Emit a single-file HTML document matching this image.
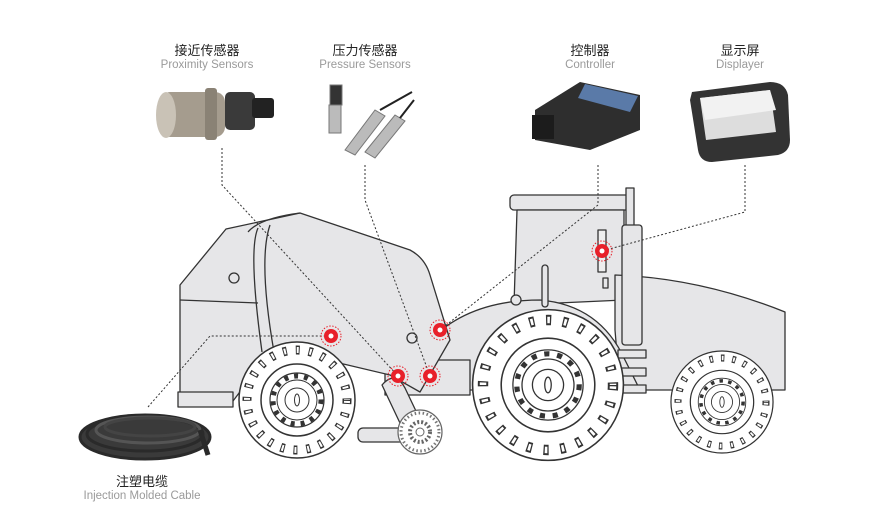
<!DOCTYPE html>
<html><head><meta charset="utf-8"><style>
html,body{margin:0;padding:0;background:#fff;}
body{width:871px;height:516px;overflow:hidden;position:relative;font-family:"Liberation Sans","Noto Sans CJK SC",sans-serif;}
.t{position:absolute;text-align:center;width:160px;}
.cn{font-size:13px;color:#222;line-height:15px;}
.en{font-size:11.5px;color:#9a9a9a;line-height:14px;}
</style></head><body>
<div class="t" style="left:127px;top:43px"><div class="cn">接近传感器</div><div class="en">Proximity Sensors</div></div>
<div class="t" style="left:285px;top:43px"><div class="cn">压力传感器</div><div class="en">Pressure Sensors</div></div>
<div class="t" style="left:510px;top:43px"><div class="cn">控制器</div><div class="en">Controller</div></div>
<div class="t" style="left:660px;top:43px"><div class="cn">显示屏</div><div class="en">Displayer</div></div>
<div class="t" style="left:62px;top:474px"><div class="cn">注塑电缆</div><div class="en">Injection Molded Cable</div></div>
<svg width="871" height="516" style="position:absolute;left:0;top:0" xmlns="http://www.w3.org/2000/svg">
<!-- products -->
<g>
 <rect x="160" y="92" width="65" height="45" rx="10" fill="#a59c8e"/>
 <ellipse cx="166" cy="115" rx="10" ry="23" fill="#c9c2b6"/>
 <rect x="205" y="88" width="12" height="52" rx="3" fill="#8a8275"/>
 <rect x="225" y="92" width="30" height="38" rx="5" fill="#3a3a3a"/>
 <rect x="252" y="98" width="22" height="20" rx="3" fill="#222"/>
</g>
<g fill="#bbb" stroke="#777" stroke-width="1">
 <rect x="330" y="85" width="12" height="20" fill="#333"/>
 <rect x="329" y="105" width="12" height="28"/>
 <path d="M345 150 L375 110 L385 116 L355 155Z"/>
 <path d="M365 152 L395 115 L405 121 L375 158Z"/>
 <path d="M380 110 L412 92 M400 118 L414 100" stroke="#222" stroke-width="2"/>
</g>
<g>
 <path d="M535 110 L580 82 L640 95 L640 130 L590 150 L535 140Z" fill="#2e2e2e"/>
 <path d="M585 84 L638 96 L630 112 L578 98Z" fill="#5a7aa8"/>
 <rect x="532" y="115" width="22" height="24" fill="#1c1c1c"/>
</g>
<g>
 <path d="M692 92 L770 82 Q785 82 788 95 L790 140 Q790 152 778 155 L712 162 Q700 162 698 150 L690 100Z" fill="#333"/>
 <path d="M700 98 L770 90 L776 132 L706 140Z" fill="#ddd"/>
 <path d="M700 98 L770 90 L776 110 L705 120Z" fill="#f2f2f2"/>
</g>
<!-- cable -->
<g fill="none" stroke="#2a2a2a" stroke-width="3">
 <ellipse cx="145" cy="437" rx="65" ry="22" fill="#3a3a3a"/>
 <ellipse cx="145" cy="434" rx="58" ry="17"/>
 <ellipse cx="148" cy="430" rx="52" ry="13" stroke="#555"/>
 <ellipse cx="150" cy="427" rx="45" ry="9" stroke="#444"/>
 <path d="M200 430 L208 455" stroke-width="5"/>
</g>
<!-- tractor -->
<g stroke="#333" stroke-width="1.3" fill="#e6e6e8" stroke-linejoin="round">
 <rect x="510" y="195" width="120" height="15" rx="4"/>
 <rect x="626" y="188" width="8" height="60"/>
 <path d="M517 210 L624 210 L624 300 L514 305Z"/>
 <path d="M615 275 Q700 278 785 312 L785 390 L620 390 L615 330Z"/>
 <rect x="622" y="225" width="20" height="120" rx="3"/>
 <path d="M420 390 L430 340 Q470 300 540 300 Q600 305 625 360 L640 390Z"/>
 <path d="M385 360 L470 360 L470 395 L385 395Z"/>
 <rect x="618" y="350" width="28" height="8"/>
 <rect x="620" y="368" width="26" height="8"/>
 <rect x="620" y="385" width="26" height="8"/>
 <rect x="542" y="265" width="6" height="42" rx="3"/>
 <circle cx="516" cy="300" r="5"/>
 <path d="M598 230 L606 230 L606 272 L598 272Z" fill="#eee"/>
 <rect x="603" y="278" width="5" height="10"/>
</g>
<!-- baler -->
<g stroke="#333" stroke-width="1.3" fill="#e6e6e8" stroke-linejoin="round">
 <path d="M180 285 L226 229 L300 213 L410 250 Q425 258 430 275 L450 340 L420 392 L390 375 L335 362 L270 352 L230 405 L180 395Z"/>
 <path d="M248 232 Q260 218 300 213" fill="none"/>
 <path d="M258 228 Q248 250 262 352 M270 225 Q258 260 274 352" fill="none"/>
 <path d="M180 300 L258 303" fill="none"/>
 <circle cx="234" cy="278" r="5"/>
 <circle cx="412" cy="338" r="5"/>
 <rect x="178" y="392" width="55" height="15"/>
 <path d="M382 385 Q395 370 405 388 L425 430 L408 440Z"/>
 <rect x="358" y="428" width="55" height="14" rx="5"/>
</g>
<!-- wheels -->
<g transform="translate(297,400)">
 <circle r="58" fill="#fff" stroke="#333" stroke-width="1.5"/>
 <circle r="50" fill="none" stroke="#333" stroke-width="9" stroke-dasharray="4 9"/>
 <circle r="50" fill="none" stroke="#fff" stroke-width="6" stroke-dasharray="2 11" stroke-dashoffset="-1"/>
 <circle r="36" fill="#fff" stroke="#333" stroke-width="1.5"/>
 <circle r="27" fill="none" stroke="#333" stroke-width="1.2"/>
 <circle r="24" fill="#fff" stroke="#333" stroke-width="5" stroke-dasharray="4 6"/>
 <circle r="20" fill="#fff" stroke="#333"/>
 <circle r="12" fill="#fff" stroke="#333"/>
 <ellipse rx="2.5" ry="6" fill="none" stroke="#333"/>
</g>
<g transform="translate(548,385) scale(1.3)">
 <circle r="58" fill="#fff" stroke="#333" stroke-width="1.2"/>
 <circle r="50" fill="none" stroke="#333" stroke-width="8" stroke-dasharray="4 9"/>
 <circle r="50" fill="none" stroke="#fff" stroke-width="5" stroke-dasharray="2 11" stroke-dashoffset="-1"/>
 <circle r="36" fill="#fff" stroke="#333" stroke-width="1.2"/>
 <circle r="27" fill="none" stroke="#333" stroke-width="1"/>
 <circle r="24" fill="#fff" stroke="#333" stroke-width="4" stroke-dasharray="4 6"/>
 <circle r="20" fill="#fff" stroke="#333"/>
 <circle r="12" fill="#fff" stroke="#333"/>
 <ellipse rx="2.5" ry="6" fill="none" stroke="#333"/>
</g>
<g transform="translate(722,402) scale(0.88)">
 <circle r="58" fill="#fff" stroke="#333" stroke-width="1.4"/>
 <circle r="50" fill="none" stroke="#333" stroke-width="8" stroke-dasharray="4 9"/>
 <circle r="50" fill="none" stroke="#fff" stroke-width="5" stroke-dasharray="2 11" stroke-dashoffset="-1"/>
 <circle r="36" fill="#fff" stroke="#333" stroke-width="1.4"/>
 <circle r="27" fill="none" stroke="#333" stroke-width="1"/>
 <circle r="24" fill="#fff" stroke="#333" stroke-width="4" stroke-dasharray="4 6"/>
 <circle r="20" fill="#fff" stroke="#333"/>
 <circle r="12" fill="#fff" stroke="#333"/>
 <ellipse rx="2.5" ry="6" fill="none" stroke="#333"/>
</g>
<g transform="translate(420,432)">
 <circle r="22" fill="#fff" stroke="#666" stroke-width="1.2"/>
 <circle r="19" fill="none" stroke="#777" stroke-width="3" stroke-dasharray="1.5 2.5"/>
 <circle r="10" fill="none" stroke="#666" stroke-width="4" stroke-dasharray="2 2"/>
 <circle r="4" fill="#fff" stroke="#666"/>
</g>
<!-- dotted lines -->
<g fill="none" stroke="#333" stroke-width="1" stroke-dasharray="2 2">
 <path d="M222 148 L222 185 L398 376"/>
 <path d="M365 165 L365 200 L430 376"/>
 <path d="M598 165 L598 205 L440 330"/>
 <path d="M745 165 L745 212 L602 251"/>
 <path d="M148 407 L210 336 L331 336"/>
</g>
<!-- sensor dots -->
<g>
 <g transform="translate(331,336)"><circle r="10" fill="none" stroke="#e8202a" stroke-dasharray="1.5 1.5"/><circle r="7" fill="#e8202a"/><circle r="2.5" fill="#fff"/></g>
 <g transform="translate(440,330)"><circle r="10" fill="none" stroke="#e8202a" stroke-dasharray="1.5 1.5"/><circle r="7" fill="#e8202a"/><circle r="2.5" fill="#fff"/></g>
 <g transform="translate(398,376)"><circle r="10" fill="none" stroke="#e8202a" stroke-dasharray="1.5 1.5"/><circle r="7" fill="#e8202a"/><circle r="2.5" fill="#fff"/></g>
 <g transform="translate(430,376)"><circle r="10" fill="none" stroke="#e8202a" stroke-dasharray="1.5 1.5"/><circle r="7" fill="#e8202a"/><circle r="2.5" fill="#fff"/></g>
 <g transform="translate(602,251)"><circle r="10" fill="none" stroke="#e8202a" stroke-dasharray="1.5 1.5"/><circle r="7" fill="#e8202a"/><circle r="2.5" fill="#fff"/></g>
</g>
</svg>
</body></html>
